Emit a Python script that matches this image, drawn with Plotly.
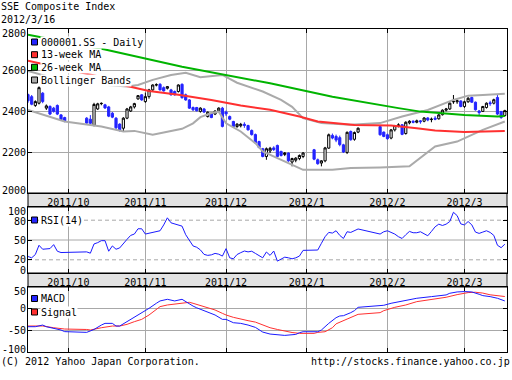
import numpy as np
import plotly.graph_objects as go

# ---------------- data ----------------
dates = [
    "2011-09-16", "2011-09-19", "2011-09-20", "2011-09-21", "2011-09-22", "2011-09-23",
    "2011-09-26", "2011-09-27", "2011-09-28", "2011-09-29", "2011-09-30",
    "2011-10-10", "2011-10-11", "2011-10-12", "2011-10-13", "2011-10-14", "2011-10-17",
    "2011-10-18", "2011-10-19", "2011-10-20", "2011-10-21", "2011-10-24", "2011-10-25",
    "2011-10-26", "2011-10-27", "2011-10-28", "2011-10-31",
    "2011-11-01", "2011-11-02", "2011-11-03", "2011-11-04", "2011-11-07", "2011-11-08",
    "2011-11-09", "2011-11-10", "2011-11-11", "2011-11-14", "2011-11-15", "2011-11-16",
    "2011-11-17", "2011-11-18", "2011-11-21", "2011-11-22", "2011-11-23", "2011-11-24",
    "2011-11-25", "2011-11-28", "2011-11-29", "2011-11-30",
    "2011-12-01", "2011-12-02", "2011-12-05", "2011-12-06", "2011-12-07", "2011-12-08",
    "2011-12-09", "2011-12-12", "2011-12-13", "2011-12-14", "2011-12-15", "2011-12-16",
    "2011-12-19", "2011-12-20", "2011-12-21", "2011-12-22", "2011-12-23", "2011-12-26",
    "2011-12-27", "2011-12-28", "2011-12-29", "2011-12-30",
    "2012-01-04", "2012-01-05", "2012-01-06", "2012-01-09", "2012-01-10", "2012-01-11",
    "2012-01-12", "2012-01-13", "2012-01-16", "2012-01-17", "2012-01-18", "2012-01-19",
    "2012-01-20", "2012-01-30", "2012-01-31",
    "2012-02-01", "2012-02-02", "2012-02-03", "2012-02-06", "2012-02-07", "2012-02-08",
    "2012-02-09", "2012-02-10", "2012-02-13", "2012-02-14", "2012-02-15", "2012-02-16",
    "2012-02-17", "2012-02-20", "2012-02-21", "2012-02-22", "2012-02-23", "2012-02-24",
    "2012-02-27", "2012-02-28", "2012-02-29",
    "2012-03-01", "2012-03-02", "2012-03-05", "2012-03-06", "2012-03-07", "2012-03-08",
    "2012-03-09", "2012-03-12", "2012-03-13", "2012-03-14", "2012-03-15", "2012-03-16",
]

opens = [
    2480, 2470, 2427, 2438, 2487, 2414, 2422, 2414, 2427, 2381, 2368,
    2365, 2360, 2330, 2410, 2436, 2430, 2420, 2389, 2365, 2336, 2316, 2365, 2400, 2420, 2459, 2479,
    2446, 2470, 2503, 2527, 2530, 2514, 2511, 2503, 2495, 2495, 2530, 2479, 2454, 2417, 2417, 2398,
    2410, 2373, 2389, 2385, 2401, 2414,
    2395, 2373, 2349, 2324, 2328, 2335, 2329, 2305, 2285, 2251, 2216, 2178, 2205, 2220, 2232, 2203,
    2188, 2195, 2151, 2160, 2168, 2178,
    2211, 2162, 2146, 2157, 2219, 2281, 2276, 2270, 2235, 2198, 2300, 2262, 2297, 2324, 2297,
    2284, 2268, 2308, 2328, 2333, 2290, 2342, 2350, 2345, 2352, 2350, 2366, 2358, 2365, 2362, 2382,
    2404, 2410, 2445, 2445, 2449,
    2422, 2445, 2466, 2443, 2400, 2398, 2417, 2440, 2438, 2466, 2398, 2378,
]
highs = [
    2485, 2478, 2452, 2520, 2492, 2432, 2428, 2420, 2432, 2385, 2372,
    2370, 2380, 2440, 2440, 2442, 2435, 2425, 2395, 2370, 2340, 2370, 2415, 2425, 2440, 2478, 2482,
    2490, 2508, 2530, 2535, 2536, 2520, 2522, 2508, 2500, 2530, 2535, 2485, 2458, 2422, 2420, 2418,
    2415, 2398, 2392, 2403, 2418, 2420,
    2402, 2378, 2352, 2340, 2342, 2345, 2333, 2310, 2290, 2255, 2220, 2222, 2225, 2228, 2236, 2206,
    2200, 2198, 2172, 2175, 2188, 2200,
    2215, 2168, 2160, 2225, 2290, 2290, 2285, 2280, 2240, 2300, 2305, 2300, 2320, 2326, 2300,
    2290, 2312, 2332, 2340, 2336, 2350, 2355, 2355, 2358, 2356, 2370, 2370, 2368, 2375, 2385, 2408,
    2415, 2442, 2478, 2455, 2452,
    2450, 2468, 2470, 2446, 2405, 2425, 2442, 2450, 2460, 2480, 2400, 2406,
]
lows = [
    2440, 2428, 2420, 2432, 2438, 2405, 2380, 2392, 2380, 2352, 2345,
    2335, 2330, 2325, 2405, 2428, 2410, 2370, 2365, 2312, 2300, 2300, 2360, 2395, 2412, 2455, 2450,
    2440, 2460, 2498, 2520, 2500, 2495, 2505, 2475, 2475, 2490, 2460, 2450, 2410, 2400, 2398, 2392,
    2390, 2368, 2365, 2380, 2396, 2320,
    2376, 2355, 2320, 2318, 2320, 2318, 2305, 2280, 2240, 2218, 2174, 2162, 2195, 2205, 2174, 2178,
    2180, 2152, 2130, 2150, 2160, 2170,
    2160, 2138, 2130, 2150, 2215, 2262, 2248, 2228, 2195, 2190, 2255, 2255, 2292, 2280, 2272,
    2260, 2262, 2300, 2320, 2282, 2285, 2335, 2340, 2340, 2338, 2345, 2350, 2345, 2355, 2358, 2378,
    2398, 2405, 2435, 2435, 2418,
    2415, 2440, 2440, 2402, 2380, 2395, 2412, 2425, 2432, 2380, 2362, 2372,
]
closes = [
    2450, 2433, 2446, 2514, 2446, 2425, 2385, 2398, 2385, 2357, 2352,
    2341, 2340, 2432, 2435, 2437, 2415, 2375, 2370, 2318, 2308, 2365, 2410, 2420, 2436, 2475, 2454,
    2470, 2503, 2527, 2528, 2503, 2498, 2519, 2479, 2479, 2527, 2465, 2454, 2414, 2406, 2401, 2414,
    2395, 2394, 2368, 2400, 2414, 2325,
    2386, 2360, 2325, 2336, 2335, 2330, 2308, 2285, 2245, 2222, 2178, 2216, 2218, 2212, 2178, 2183,
    2195, 2157, 2168, 2170, 2183, 2195,
    2165, 2143, 2157, 2220, 2284, 2268, 2258, 2236, 2200, 2296, 2260, 2295, 2316, 2284, 2276,
    2265, 2308, 2329, 2332, 2286, 2345, 2350, 2345, 2352, 2348, 2366, 2356, 2360, 2360, 2381, 2404,
    2410, 2438, 2446, 2450, 2422,
    2445, 2462, 2443, 2406, 2392, 2422, 2438, 2436, 2455, 2385, 2368, 2402,
]

ma13_dates = ["2011-09-16", "2011-10-13", "2011-10-25", "2011-11-02", "2011-11-14", "2011-11-25",
              "2011-12-07", "2011-12-19", "2011-12-29", "2012-01-05", "2012-01-19", "2012-02-02",
              "2012-02-13", "2012-02-20", "2012-03-01", "2012-03-08", "2012-03-16"]
ma13_vals = [2645, 2570, 2522, 2498, 2479, 2454, 2427, 2406, 2373, 2349, 2332, 2329,
             2316, 2305, 2297, 2300, 2303]

ma26_dates = ["2011-09-16", "2011-10-17", "2011-11-15", "2011-12-19", "2012-01-11", "2012-01-18",
              "2012-02-06", "2012-02-14", "2012-02-21", "2012-03-01", "2012-03-14", "2012-03-16"]
ma26_vals = [2772, 2700, 2616, 2535, 2470, 2454, 2414, 2397, 2390, 2381, 2373, 2376]

bbu_dates = ["2011-09-16", "2011-09-23", "2011-09-30", "2011-10-13", "2011-10-25", "2011-10-28",
             "2011-11-03", "2011-11-10", "2011-11-16", "2011-11-22", "2011-11-30", "2011-12-06",
             "2011-12-15", "2011-12-22", "2011-12-27", "2011-12-30", "2012-01-06", "2012-01-18",
             "2012-01-30", "2012-02-07", "2012-02-16", "2012-02-27", "2012-03-02", "2012-03-08",
             "2012-03-16"]
bbu_vals = [2595, 2570, 2545, 2530, 2519, 2527, 2552, 2576, 2587, 2565, 2576, 2538,
            2495, 2454, 2420, 2365, 2342, 2333, 2341, 2373, 2405, 2454, 2475, 2478, 2484]

bbl_dates = ["2011-09-16", "2011-09-30", "2011-10-14", "2011-10-24", "2011-10-27", "2011-11-03",
             "2011-11-15", "2011-11-18", "2011-11-22", "2011-11-25", "2011-11-29", "2011-12-01",
             "2011-12-07", "2011-12-13", "2011-12-15", "2011-12-22", "2011-12-30", "2012-01-11",
             "2012-01-18", "2012-01-30", "2012-02-09", "2012-02-20", "2012-02-28", "2012-03-08",
             "2012-03-16"]
bbl_vals = [2405, 2349, 2324, 2300, 2303, 2284, 2313, 2340, 2370, 2390, 2397, 2340,
            2300, 2243, 2203, 2162, 2113, 2113, 2122, 2125, 2130, 2227, 2251, 2308, 2349]

rsi_vals = [
    25, 23, 28, 42, 36, 36, 37, 43, 33, 31, 31,
    32, 30, 44, 46, 49, 49, 33, 41, 36, 38, 45, 51, 57, 59, 67, 67,
    59, 60, 61.5, 63, 64, 72.8, 83.6, 76, 74, 72.8, 71, 58, 48.7, 41, 39, 35, 28.2, 26.7, 27.5,
    29.7, 28.5, 25.6,
    36.9, 23, 21.5, 28, 30.8, 33.3, 32, 33, 29.7, 26, 23, 31.8, 26.7, 33.3, 18, 21, 24, 23, 21.5,
    23, 25.6, 34.3,
    34.8, 34.8, 45, 55, 61.5, 60.5, 64, 57, 52.3, 62.5, 61.5, 64, 66.7, 59, 62.5,
    64, 62, 59, 55, 52.3, 58, 63, 61, 61, 62.5, 59, 56.4, 63, 70, 74, 72, 74, 78, 92, 87, 74.4,
    72.8, 78, 73, 62, 60, 62, 64, 61.5, 57, 42, 38.4, 43.6,
]

macd_dates = ["2011-09-16", "2011-09-20", "2011-09-22", "2011-09-23", "2011-09-29", "2011-09-30",
              "2011-10-10", "2011-10-12", "2011-10-14", "2011-10-17", "2011-10-19", "2011-10-20",
              "2011-10-21", "2011-10-25", "2011-10-27", "2011-10-31", "2011-11-02", "2011-11-04",
              "2011-11-07", "2011-11-09", "2011-11-11", "2011-11-15", "2011-11-16", "2011-11-17",
              "2011-11-18", "2011-11-21", "2011-11-22", "2011-11-24", "2011-11-28", "2011-11-30",
              "2011-12-01", "2011-12-05", "2011-12-07", "2011-12-09", "2011-12-13", "2011-12-15",
              "2011-12-19", "2011-12-23", "2011-12-28", "2011-12-29", "2011-12-30", "2012-01-05",
              "2012-01-06", "2012-01-10", "2012-01-12", "2012-01-13", "2012-01-16", "2012-01-18",
              "2012-01-19", "2012-01-20", "2012-01-30", "2012-01-31", "2012-02-02", "2012-02-06",
              "2012-02-09", "2012-02-13", "2012-02-17", "2012-02-23", "2012-02-24", "2012-02-28",
              "2012-03-01", "2012-03-05", "2012-03-07", "2012-03-08", "2012-03-12", "2012-03-14",
              "2012-03-16"]
macd_vals = [-41.6, -41.6, -37.8, -41.6, -49.3, -53, -54.7, -48, -37.8, -33.9, -33.9, -40.1,
             -40.1, -30, -20, -10.8, 0.8, 12.4, 17.8, 21.6, 17.8, 21.6, 16, 10, 6, 2, -1.5,
             -6.9, -14.6, -24.7, -24.7, -32.4, -33.9, -37.8, -43.2, -54, -58.6, -61.7, -59.4,
             -55.5, -53.2, -53.2, -49.3, -33.9, -20.8, -16.9, -16.2, -9.2, -4.6, 3.1, 6.2, 7.8,
             12.4, 16.2, 21.6, 24, 27.8, 31.7, 35.5, 38.6, 39.4, 38.6, 33.2, 30.1, 27.8, 24, 17.8]

signal_dates = ["2011-09-16", "2011-09-22", "2011-09-27", "2011-09-30", "2011-10-10", "2011-10-11",
                "2011-10-14", "2011-10-19", "2011-10-21", "2011-10-25", "2011-10-27", "2011-10-31",
                "2011-11-02", "2011-11-04", "2011-11-07", "2011-11-09", "2011-11-11", "2011-11-15",
                "2011-11-17", "2011-11-18", "2011-11-22", "2011-11-24", "2011-11-28", "2011-11-30",
                "2011-12-01", "2011-12-05", "2011-12-07", "2011-12-09", "2011-12-13", "2011-12-15",
                "2011-12-19", "2011-12-21", "2011-12-23", "2011-12-27", "2011-12-29", "2012-01-04",
                "2012-01-05", "2012-01-09", "2012-01-11", "2012-01-12", "2012-01-17", "2012-01-20",
                "2012-01-30", "2012-01-31", "2012-02-03", "2012-02-08", "2012-02-13", "2012-02-17",
                "2012-02-23", "2012-02-28", "2012-03-02", "2012-03-06", "2012-03-08", "2012-03-12",
                "2012-03-16"]
signal_vals = [-40, -40, -44, -47, -48, -49.3, -44, -40.1, -40.1, -36.2, -30, -24.7, -14.6, -3,
               4.7, 8.5, 10.8, 13.9, 14.7, 12.4, 7, 3.1, -3, -10.8, -14.6, -20, -24.7, -27.7,
               -31, -37, -44, -48, -52, -55, -57, -57, -54.7, -53.2, -44, -35, -24, -13.1, -9.2,
               -4.6, 3.1, 8.5, 16.2, 21.6, 26.3, 32.4, 37.1, 37.9, 36, 32, 28]

month_dates = ["2011-10-01", "2011-11-01", "2011-12-01", "2012-01-01", "2012-02-01", "2012-03-01"]
month_labels = ["2011/10", "2011/11", "2011/12", "2012/1", "2012/2", "2012/3"]

main_ticks = [2000, 2200, 2400, 2600, 2800]
rsi_ticks = [0, 20, 50, 80, 100]
macd_ticks = [-100, -50, 0, 50]

# ---------------- helpers ----------------
START = "2011-09-16"


def pos(ds):
    # weekday index (the chart's x axis counts every weekday, holidays leave gaps)
    return np.busday_count(START, np.array(ds, dtype="datetime64[D]")).tolist()


W, H = 512, 380


def px(x):
    return x / W


def py(y):
    return 1 - y / H


FONT = "DejaVu Sans Mono"
BLUE = "#2424ff"
LBLUE = "#1a1aff"
RED = "#ff3030"
GREEN = "#00b400"
GRAY = "#aaaaaa"
GRID = "#a8a8a8"

fig = go.Figure()

# main panel lines
for xs, ys, col in [(bbu_dates, bbu_vals, GRAY), (bbl_dates, bbl_vals, GRAY),
                    (ma13_dates, ma13_vals, RED), (ma26_dates, ma26_vals, GREEN)]:
    fig.add_trace(go.Scatter(x=pos(xs), y=ys, mode="lines", line=dict(color=col, width=2),
                             xaxis="x", yaxis="y", hoverinfo="skip", showlegend=False))

fig.add_trace(go.Candlestick(
    x=pos(dates), open=opens, high=highs, low=lows, close=closes,
    increasing=dict(line=dict(color="black", width=1), fillcolor="white"),
    decreasing=dict(line=dict(color=BLUE, width=1), fillcolor=BLUE),
    xaxis="x", yaxis="y", showlegend=False, hoverinfo="skip"))

# RSI
fig.add_trace(go.Scatter(x=pos(dates), y=rsi_vals, mode="lines", line=dict(color=LBLUE, width=1),
                         xaxis="x2", yaxis="y2", hoverinfo="skip", showlegend=False))

# MACD
fig.add_trace(go.Scatter(x=pos(signal_dates), y=signal_vals, mode="lines",
                         line=dict(color=RED, width=1), xaxis="x3", yaxis="y3",
                         hoverinfo="skip", showlegend=False))
fig.add_trace(go.Scatter(x=pos(macd_dates), y=macd_vals, mode="lines",
                         line=dict(color=LBLUE, width=1), xaxis="x3", yaxis="y3",
                         hoverinfo="skip", showlegend=False))

XDOM = [px(28), px(507)]
XRANGE = [0.0, 130.6]
mpos = pos(month_dates)

tickfont = dict(family=FONT, size=10, color="black")


def xax(anchor, labels):
    return dict(domain=XDOM, range=XRANGE, anchor=anchor, tickvals=mpos, ticktext=month_labels,
                showticklabels=labels, ticks="inside", ticklen=4, tickcolor="black",
                showline=True, linecolor="black", linewidth=1, mirror="ticks",
                showgrid=True, gridcolor=GRID, gridwidth=1, zeroline=False,
                tickfont=tickfont, rangeslider=dict(visible=False), fixedrange=True)


def yax(anchor, dom, rng, tv, grid):
    # tick labels are drawn as annotations below so the edge labels can sit inside the panel
    return dict(domain=dom, range=rng, anchor=anchor, tickvals=tv, ticks="inside", ticklen=4,
                tickcolor="black", showline=True, linecolor="black", linewidth=1,
                mirror="ticks", showgrid=grid, gridcolor=GRID, gridwidth=1, zeroline=False,
                showticklabels=False, fixedrange=True)


shapes = []
# date bands
for top, bot in [(193, 207), (273, 287)]:
    shapes.append(dict(type="rect", xref="paper", yref="paper", x0=XDOM[0], x1=XDOM[1],
                       y0=py(bot), y1=py(top), fillcolor="#e2e2e2",
                       line=dict(color="black", width=1), layer="below"))
# RSI reference lines
for lvl, dash in [(20, "4px,3px"), (50, "solid"), (80, "4px,3px")]:
    shapes.append(dict(type="line", xref="x2 domain", yref="y2", x0=0, x1=1, y0=lvl, y1=lvl,
                       line=dict(color=GRID, width=1, dash=dash), layer="below"))

annotations = []

# y tick labels (edge labels nudged inward like the original)
label_shift = {("y", 2800): -4, ("y", 2000): 3, ("y2", 100): -4, ("y2", 80): -1,
               ("y2", 0): 3, ("y3", 50): -4, ("y3", -100): 3}
for yref, ticks in [("y", main_ticks), ("y2", rsi_ticks), ("y3", macd_ticks)]:
    for t in ticks:
        annotations.append(dict(x=px(27), y=t, xref="paper", yref=yref, text=str(t),
                                showarrow=False, xanchor="right", yanchor="middle",
                                yshift=label_shift.get((yref, t), 0), font=tickfont,
                                borderpad=0))


def legend_item(cy, color, text):
    shapes.append(dict(type="rect", xref="paper", yref="paper", x0=px(31.5), x1=px(37.5),
                       y0=py(cy + 3), y1=py(cy - 3), fillcolor=color,
                       line=dict(color="black", width=1), layer="above"))
    annotations.append(dict(x=px(39.5), y=py(cy), xref="paper", yref="paper", text=text,
                            showarrow=False, xanchor="left", yanchor="middle",
                            font=dict(family=FONT, size=10, color="black"),
                            bgcolor="white", borderpad=0))


legend_item(42, BLUE, "000001.SS - Daily")
legend_item(54.7, RED, "13-week MA")
legend_item(67.3, GREEN, "26-week MA")
legend_item(80, GRAY, "Bollinger Bands")
legend_item(220, BLUE, "RSI(14)")
legend_item(298.5, BLUE, "MACD")
legend_item(312, RED, "Signal")

for txt, x, y, xa in [("SSE Composite Index", 0, 7, "left"), ("2012/3/16", 0, 20, "left"),
                      ("(C) 2012 Yahoo Japan Corporation.", 0, 361, "left"),
                      ("http://stocks.finance.yahoo.co.jp", 511, 361, "right")]:
    annotations.append(dict(x=px(x), y=py(y), xref="paper", yref="paper", text=txt,
                            showarrow=False, xanchor=xa, yanchor="middle",
                            font=dict(family=FONT, size=10, color="black"), borderpad=0))

fig.update_layout(
    width=W, height=H, margin=dict(l=0, r=0, t=0, b=0),
    paper_bgcolor="white", plot_bgcolor="white",
    showlegend=False, hovermode=False, boxgap=0.15,
    xaxis=xax("y", True), xaxis2=xax("y2", True), xaxis3=xax("y3", False),
    yaxis=yax("x", [py(193), py(29)], [2000, 2800], main_ticks, True),
    yaxis2=yax("x2", [py(273), py(207)], [0, 100], rsi_ticks, False),
    yaxis3=yax("x3", [py(352), py(287)], [-100, 50], macd_ticks, True),
    shapes=shapes, annotations=annotations,
)

fig.write_html("out.html", config={"staticPlot": True},
               post_script="document.body.style.margin='0';document.body.style.overflow='hidden';")
